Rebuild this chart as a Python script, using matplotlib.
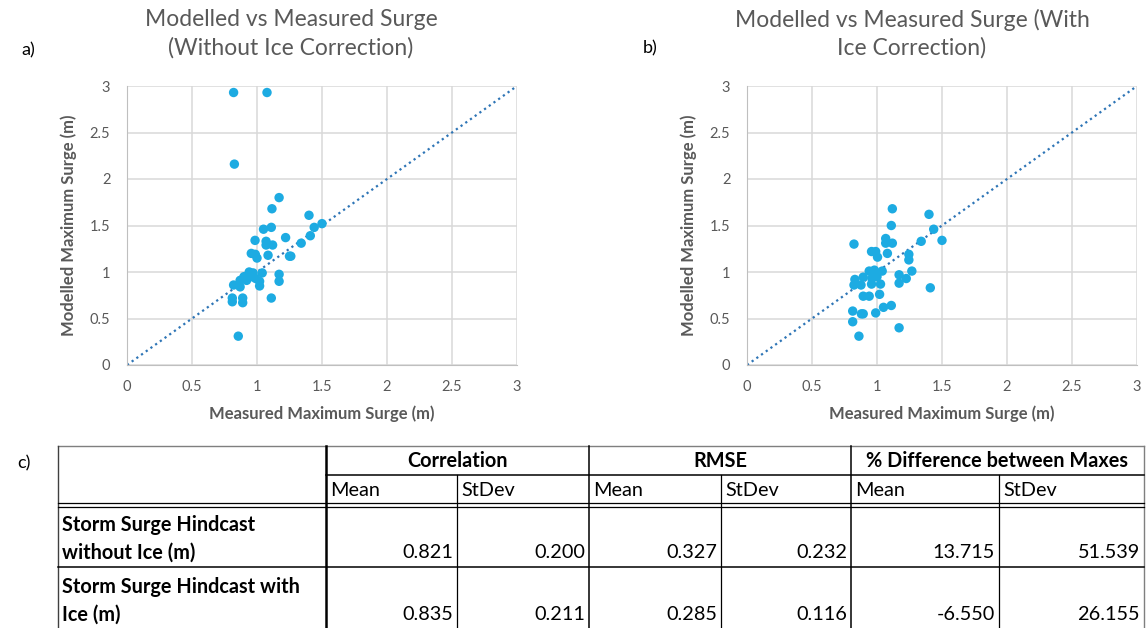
import matplotlib
matplotlib.use("Agg")
import matplotlib.pyplot as plt

plt.rcParams["font.family"] = ["Lato", "DejaVu Sans"]

# panel a) without ice correction
measured_a = [0.82, 1.077, 0.826, 1.17, 1.115, 1.40, 1.05, 1.11, 1.44, 1.50,
              1.41, 1.22, 1.34, 0.985, 1.07, 1.07, 1.12, 0.956, 0.987, 1.0,
              1.085, 1.25, 1.26, 0.94, 0.97, 1.04, 0.90, 0.87, 0.92, 0.82,
              0.87, 1.02, 1.02, 1.17, 1.17, 0.81, 0.81, 0.89, 0.89, 1.11,
              0.856, 0.96, 0.99]
modelled_a = [2.93, 2.93, 2.16, 1.80, 1.68, 1.61, 1.46, 1.48, 1.48, 1.52,
              1.39, 1.37, 1.31, 1.34, 1.33, 1.29, 1.29, 1.20, 1.19, 1.15,
              1.18, 1.17, 1.17, 1.00, 0.99, 0.99, 0.95, 0.91, 0.91, 0.86,
              0.84, 0.90, 0.85, 0.975, 0.90, 0.72, 0.68, 0.72, 0.67, 0.72,
              0.31, 0.95, 0.93]

# panel b) with ice correction
measured_b = [1.118, 1.40, 1.11, 1.436, 1.50, 1.34, 0.823, 1.067, 1.067, 1.118,
              0.958, 0.99, 1.004, 1.08, 1.245, 1.245, 1.268, 0.94, 0.98, 1.04,
              1.17, 1.225, 1.17, 0.894, 0.83, 0.823, 0.877, 0.958, 1.027, 1.41,
              1.02, 0.894, 0.94, 1.11, 1.05, 0.813, 0.88, 0.894, 0.99, 0.813,
              1.17, 0.861, 1.0, 0.96]
modelled_b = [1.68, 1.62, 1.50, 1.46, 1.34, 1.33, 1.30, 1.36, 1.31, 1.31,
              1.22, 1.22, 1.16, 1.20, 1.19, 1.13, 1.01, 1.01, 1.02, 1.01,
              0.97, 0.93, 0.88, 0.945, 0.92, 0.86, 0.86, 0.87, 0.87, 0.83,
              0.76, 0.74, 0.74, 0.64, 0.62, 0.58, 0.55, 0.55, 0.56, 0.465,
              0.40, 0.31, 0.95, 0.93]

axis_ticks = [0, 0.5, 1, 1.5, 2, 2.5, 3]
tick_labels = ["0", "0.5", "1", "1.5", "2", "2.5", "3"]

# table c)
groups = ["Correlation", "RMSE", "% Difference between Maxes"]
subheads = ["Mean", "StDev"]
row_labels = ["Storm Surge Hindcast\nwithout Ice (m)",
              "Storm Surge Hindcast with\nIce (m)"]
table_values = [
    [0.821, 0.200, 0.327, 0.232, 13.715, 51.539],
    [0.835, 0.211, 0.285, 0.116, -6.550, 26.155],
]

GREY = "#595959"
DOT_BLUE = "#1dabe2"
LINE_BLUE = "#2e75b6"
TFS = 14.3  # table font size

W, H = 1148, 628
fig = plt.figure(figsize=(W / 100, H / 100), dpi=100)


def scatter_panel(left_px, xs, ys):
    ax = fig.add_axes([left_px / W, 1 - 365 / H, 390 / W, 279 / H])
    ax.plot([0, 3], [0, 3], linestyle=(0, (1, 1.6)), color=LINE_BLUE, lw=1.6, zorder=2)
    ax.scatter(xs, ys, s=46, color=DOT_BLUE, edgecolors="none", zorder=3)
    ax.set_xlim(0, 3)
    ax.set_ylim(0, 3)
    ax.set_xticks(axis_ticks)
    ax.set_yticks(axis_ticks)
    ax.set_xticklabels(tick_labels)
    ax.set_yticklabels(tick_labels)
    ax.tick_params(length=0, labelsize=10.5, labelcolor=GREY)
    ax.tick_params(axis="x", pad=11)
    ax.tick_params(axis="y", pad=12)
    ax.grid(True, color="#d9d9d9", lw=1.1)
    ax.set_axisbelow(True)
    for side in ["top", "right"]:
        ax.spines[side].set_visible(False)
    for side in ["left", "bottom"]:
        ax.spines[side].set_color("#bfbfbf")
    ax.set_xlabel("Measured Maximum Surge (m)", fontsize=12, fontweight="bold",
                  color=GREY, labelpad=8)
    ax.set_ylabel("Modelled Maximum Surge (m)", fontsize=12, fontweight="bold",
                  color=GREY, labelpad=9)
    return ax


scatter_panel(127, measured_a, modelled_a)
scatter_panel(747, measured_b, modelled_b)

fig.text(291 / W, 1 - 20 / H, "Modelled vs Measured Surge", ha="center", va="center",
         fontsize=16.5, color=GREY)
fig.text(291 / W, 1 - 48 / H, "(Without Ice Correction)", ha="center", va="center",
         fontsize=16.5, color=GREY)
fig.text(912 / W, 1 - 20 / H, "Modelled vs Measured Surge (With", ha="center", va="center",
         fontsize=16.5, color=GREY)
fig.text(912 / W, 1 - 48 / H, "Ice Correction)", ha="center", va="center",
         fontsize=16.5, color=GREY)
fig.text(28 / W, 1 - 50 / H, "a)", ha="center", va="center", fontsize=13)
fig.text(650 / W, 1 - 48 / H, "b)", ha="center", va="center", fontsize=13)
fig.text(24 / W, 1 - 463 / H, "c)", ha="center", va="center", fontsize=13)

# table drawn in pixel space
tb = fig.add_axes([0, 0, 1, 1])
tb.set_xlim(0, W)
tb.set_ylim(H, 0)
tb.axis("off")

col_edges = [58, 326, 457, 589, 721, 851, 999, 1144]
row_edges = [446, 475, 505, 567, 629]
K = "black"

tb.plot([58, 1144], [446, 446], color="#7f7f7f", lw=1)
tb.plot([58, 58], [446, 640], color="#404040", lw=1)
tb.plot([1144, 1144], [446, 640], color="#7f7f7f", lw=1)
tb.plot([326, 326], [446, 640], color=K, lw=1.8)
for x in [589, 851]:
    tb.plot([x, x], [446, 640], color=K, lw=1.1)
for x in [457, 721, 999]:
    tb.plot([x, x], [475, 640], color=K, lw=0.9)
tb.plot([326, 1144], [475, 475], color=K, lw=1.1)
tb.plot([58, 1144], [503, 503], color=K, lw=0.9)
tb.plot([58, 1144], [506.5, 506.5], color=K, lw=0.9)
tb.plot([58, 1144], [567, 567], color=K, lw=1.1)

for g, name in enumerate(groups):
    x0, x1 = col_edges[1 + 2 * g], col_edges[3 + 2 * g]
    tb.text((x0 + x1) / 2, 461, name, ha="center", va="center", fontsize=TFS,
            fontweight="bold")
    for k, sub in enumerate(subheads):
        tb.text(col_edges[1 + 2 * g + k] + 4, 490, sub, ha="left", va="center",
                fontsize=TFS)

row_tops = [row_edges[2], row_edges[3]]
for r, label in enumerate(row_labels):
    top = row_tops[r]
    line1, line2 = label.split("\n")
    tb.text(62, top + 20, line1, ha="left", va="center", fontsize=TFS, fontweight="bold")
    tb.text(62, top + 48, line2, ha="left", va="center", fontsize=TFS, fontweight="bold")
    for c, val in enumerate(table_values[r]):
        tb.text(col_edges[c + 2] - 4, top + 48, f"{val:.3f}", ha="right", va="center",
                fontsize=TFS)

fig.savefig("out.png", dpi=100)
